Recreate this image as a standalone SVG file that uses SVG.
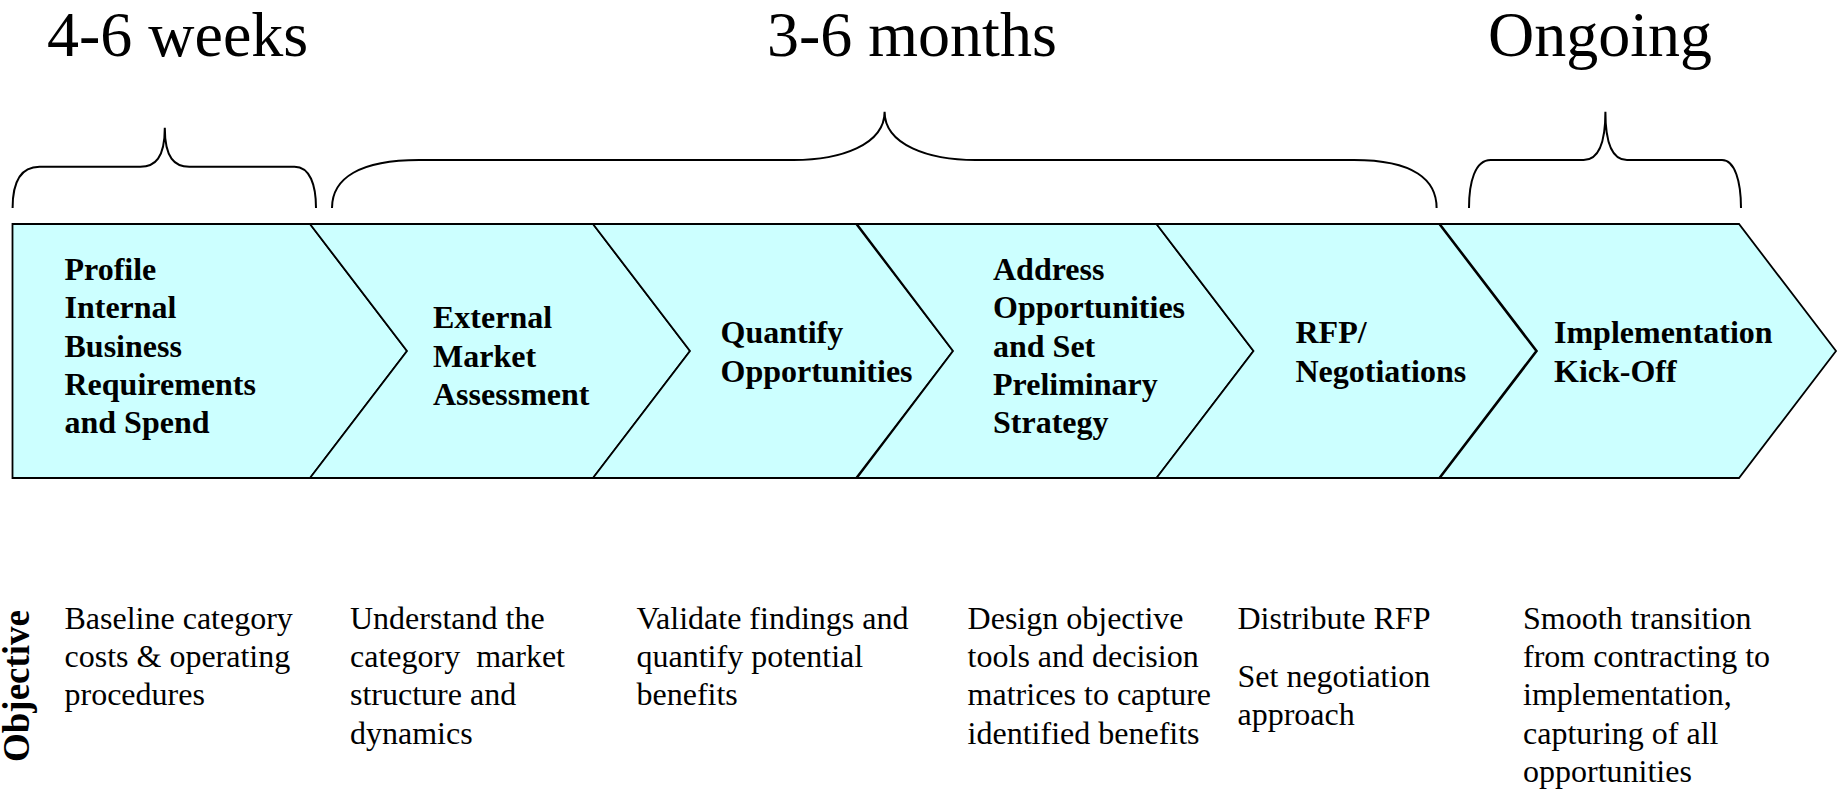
<svg xmlns="http://www.w3.org/2000/svg" width="1839" height="793" viewBox="0 0 1839 793">
  <style>
    .phase { font-family: "Liberation Serif", "Times New Roman", serif; font-size: 64px; fill: #000; }
    .step { fill: #CCFFFF; stroke: #000; stroke-width: 1.8; stroke-linejoin: miter; }
    .step-label { font-family: "Liberation Serif", "Times New Roman", serif; font-size: 32px; font-weight: bold; fill: #000; }
    .objective { font-family: "Liberation Serif", "Times New Roman", serif; font-size: 32px; fill: #000; }
    .row-title { font-family: "Liberation Serif", "Times New Roman", serif; font-size: 37px; font-weight: bold; fill: #000; }
    .brace { fill: none; stroke: #000; stroke-width: 2; }
  </style>
  <rect width="1839" height="793" fill="#FFFFFF"/>

  <!-- phase durations -->
  <g id="durations">
    <text class="phase" x="47" y="56">4-6 weeks</text>
    <text class="phase" x="767" y="56">3-6 months</text>
    <text class="phase" x="1488" y="56">Ongoing</text>
  </g>

  <!-- braces grouping the steps under each duration -->
  <g id="connectors">
    <path class="brace" d="M12.6,208 C12.6,185 19,166.7 39.5,166.7 H140.3 C155,166.7 164.8,158 164.8,127.7 C164.8,158 174.6,166.7 189.3,166.7 H294.5 C310,166.7 316,185 316,208"/>
    <path class="brace" d="M332,208 C332,178 360,160 419,160 H793.7 C840,160 884.6,145 884.6,111.7 C884.6,145 929,160 975.5,160 H1354 C1414,160 1436.6,180 1436.6,208"/>
    <path class="brace" d="M1469,208 C1469,182 1475,160 1490.7,160 H1583.6 C1598,160 1605.4,145 1605.4,111.7 C1605.4,145 1613,160 1627,160 H1722 C1735,160 1741,182 1741,208"/>
  </g>

  <!-- process steps -->
  <g id="step-profile">
    <path class="step" d="M12.5,224 H310 L407,351 L310,478 H12.5 Z"/>
    <text class="step-label" x="64.5" y="280">Profile</text>
    <text class="step-label" x="64.5" y="318.3">Internal</text>
    <text class="step-label" x="64.5" y="356.7">Business</text>
    <text class="step-label" x="64.5" y="395">Requirements</text>
    <text class="step-label" x="64.5" y="433.3">and Spend</text>
  </g>
  <g id="step-external">
    <path class="step" d="M310,224 H593 L690,351 L593,478 H310 L407,351 Z"/>
    <text class="step-label" x="433" y="328.3">External</text>
    <text class="step-label" x="433" y="366.7">Market</text>
    <text class="step-label" x="433" y="405">Assessment</text>
  </g>
  <g id="step-quantify">
    <path class="step" d="M593,224 H856 L953,351 L856,478 H593 L690,351 Z"/>
    <text class="step-label" x="720.5" y="343.3">Quantify</text>
    <text class="step-label" x="720.5" y="381.7">Opportunities</text>
  </g>
  <g id="step-address">
    <path class="step" d="M857,224 H1156.5 L1253.5,351 L1156.5,478 H857 L953,351 Z"/>
    <text class="step-label" x="993" y="280">Address</text>
    <text class="step-label" x="993" y="318.3">Opportunities</text>
    <text class="step-label" x="993" y="356.7">and Set</text>
    <text class="step-label" x="993" y="395">Preliminary</text>
    <text class="step-label" x="993" y="433.3">Strategy</text>
  </g>
  <g id="step-rfp">
    <path class="step" d="M1156.5,224 H1439 L1536,351 L1439,478 H1156.5 L1253.5,351 Z"/>
    <text class="step-label" x="1295.5" y="343.3">RFP/</text>
    <text class="step-label" x="1295.5" y="381.7">Negotiations</text>
  </g>
  <g id="step-implementation">
    <path class="step" d="M1440,224 H1739 L1836,351 L1739,478 H1440 L1537,351 Z"/>
    <text class="step-label" x="1554" y="343.3">Implementation</text>
    <text class="step-label" x="1554" y="381.7">Kick-Off</text>
  </g>

  <!-- objectives row -->
  <g id="objective-title">
    <text class="row-title" transform="translate(29,686) rotate(-90)" text-anchor="middle">Objective</text>
  </g>
  <g id="objective-profile">
    <text class="objective" x="64.5" y="628.5">Baseline category</text>
    <text class="objective" x="64.5" y="666.9">costs &amp; operating</text>
    <text class="objective" x="64.5" y="705.3">procedures</text>
  </g>
  <g id="objective-external">
    <text class="objective" x="350" y="628.5">Understand the</text>
    <text class="objective" x="350" y="666.9" xml:space="preserve">category  market</text>
    <text class="objective" x="350" y="705.3">structure and</text>
    <text class="objective" x="350" y="743.7">dynamics</text>
  </g>
  <g id="objective-quantify">
    <text class="objective" x="636.5" y="628.5">Validate findings and</text>
    <text class="objective" x="636.5" y="666.9">quantify potential</text>
    <text class="objective" x="636.5" y="705.3">benefits</text>
  </g>
  <g id="objective-address">
    <text class="objective" x="967.6" y="628.5">Design objective</text>
    <text class="objective" x="967.6" y="666.9">tools and decision</text>
    <text class="objective" x="967.6" y="705.3">matrices to capture</text>
    <text class="objective" x="967.6" y="743.7">identified benefits</text>
  </g>
  <g id="objective-rfp">
    <text class="objective" x="1237.5" y="628.5">Distribute RFP</text>
    <text class="objective" x="1237.5" y="686.5">Set negotiation</text>
    <text class="objective" x="1237.5" y="724.9">approach</text>
  </g>
  <g id="objective-implementation">
    <text class="objective" x="1523" y="628.5">Smooth transition</text>
    <text class="objective" x="1523" y="666.9">from contracting to</text>
    <text class="objective" x="1523" y="705.3">implementation,</text>
    <text class="objective" x="1523" y="743.7">capturing of all</text>
    <text class="objective" x="1523" y="782.1">opportunities</text>
  </g>
</svg>
